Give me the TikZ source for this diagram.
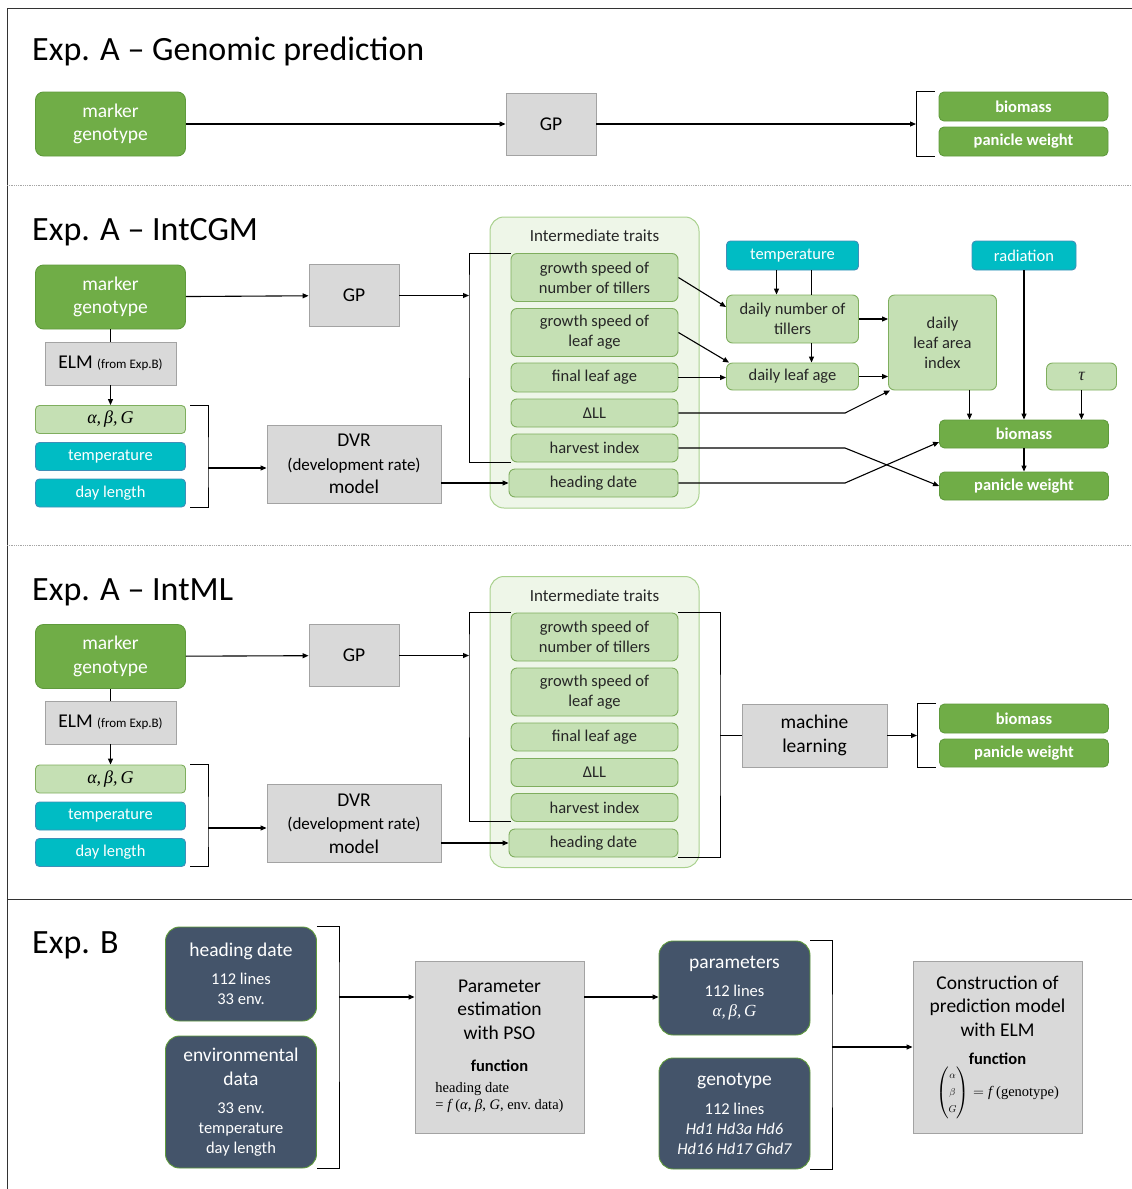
\documentclass[tikz,border=0pt]{standalone}
\usepackage{amsmath}
\usepackage{fontspec}
\setmainfont{Carlito}
\newfontfamily\cambria{Liberation Serif}
\usetikzlibrary{arrows.meta}

\definecolor{mkgreen}{HTML}{70AD47}
\definecolor{mkgreenline}{HTML}{5F9A3C}
\definecolor{ltgreen}{HTML}{C5E0B4}
\definecolor{ltgreenline}{HTML}{7FAE5E}
\definecolor{envteal}{HTML}{00BCC4}
\definecolor{envtealline}{HTML}{3F8FB8}
\definecolor{boxgray}{HTML}{D9D9D9}
\definecolor{boxgrayline}{HTML}{A3A3A3}
\definecolor{slate}{HTML}{44546A}
\definecolor{panelfill}{HTML}{EEF6E8}
\definecolor{panelline}{HTML}{A9D18E}

\newcommand\bigtxt{\fontsize{19.5}{23.5}\selectfont}
\newcommand\smtxt{\fontsize{16.5}{20}\selectfont}
\newcommand\ftxt{\fontsize{14.5}{17}\selectfont}
\newcommand\abg{{\cambria\itshape α,\,β,\,G}}

\tikzset{
  frame/.style={line width=1pt,black!80},
  sepline/.style={densely dotted,line width=0.8pt,gray!70},
  title/.style={anchor=base west,inner sep=0pt,font=\fontsize{34}{40}\selectfont},
  base/.style={inner sep=0pt,align=center,line width=0.9pt},
  genobox/.style={base,rounded corners=8pt,fill=mkgreen,draw=mkgreenline,text=white,
    font=\bigtxt,minimum width=150pt,minimum height=64pt},
  resbox/.style={base,rounded corners=5pt,fill=mkgreen,draw=mkgreenline,text=white,
    font=\bfseries\smtxt,minimum width=169pt,minimum height=29pt},
  gpbox/.style={base,fill=boxgray,draw=boxgrayline,font=\bigtxt},
  elmbox/.style={gpbox,minimum width=131pt,minimum height=43pt},
  inbox/.style={base,rounded corners=4pt,minimum width=150pt,minimum height=28pt,font=\smtxt},
  envbox/.style={inbox,fill=envteal,draw=envtealline,text=white},
  coefbox/.style={inbox,fill=ltgreen,draw=ltgreenline,font=\fontsize{18}{20}\selectfont},
  traitbox/.style={base,rounded corners=6pt,fill=ltgreen,draw=ltgreenline,text=black!85,
    font=\smtxt,minimum width=167pt},
  cgmbox/.style={traitbox,minimum width=132pt},
  panel/.style={rounded corners=14pt,fill=panelfill,draw=panelline,line width=1pt,
    minimum width=209pt,minimum height=291pt},
  darkbox/.style={base,rounded corners=14pt,fill=slate,draw=mkgreenline,text=white,
    font=\smtxt,minimum width=151pt},
  conn/.style={-{Triangle[length=6pt,width=5pt]},line width=1.1pt},
  brk/.style={line width=1pt}
}

\begin{document}
\begin{tikzpicture}[x=1pt,y=-1pt]
\useasboundingbox (0,0) rectangle (1132,1189);

% Frame and separators
\draw[frame] (7,1189) -- (7,8) -- (1132,8);
\draw[sepline] (7,185) -- (1132,185);
\draw[sepline] (7,545) -- (1132,545);
\draw[frame] (7,899) -- (1132,899);

% Exp. A -- genomic prediction
\node[title] (t1) at (32,60) {Exp. A – Genomic prediction};
\node[genobox] (mg1) at (110.5,124) {marker\\genotype};
\node[gpbox,minimum width=90pt,minimum height=62pt] (gp1) at (551,124) {GP};
\node[resbox] (bio1) at (1023.5,106.5) {biomass};
\node[resbox] (pw1) at (1023.5,141.5) {panicle weight};
\coordinate (br1) at (916,124);
\draw[conn] (mg1) -- (gp1);
\draw[conn] (gp1) -- (br1);
\draw[brk] ([xshift=-4pt]bio1.north west) -| (br1) |- ([xshift=-4pt]pw1.south west);

% Exp. A -- IntCGM
\node[title] (t2) at (32,240) {Exp. A – IntCGM};
\node[genobox] (mg2) at (110.5,297) {marker\\genotype};
\node[gpbox,minimum width=90pt,minimum height=62pt] (gp2) at (354,295.5) {GP};
\node[elmbox] (elm2) at (110.5,363.5) {ELM {\fontsize{13}{15}\selectfont (from Exp.B)}};
\node[coefbox] (abg2) at (110.5,419.5) {\abg};
\node[envbox] (tmp2) at (110.5,456.5) {temperature};
\node[envbox] (dl2) at (110.5,493) {day length};
\node[gpbox,minimum width=174pt,minimum height=78pt] (dvr2) at (354,464)
  {DVR\\{\fontsize{17}{21.5}\selectfont (development rate)}\\model};

\node[panel] (panel2) at (594.5,362.5) {};
\node[font=\fontsize{17}{20}\selectfont,text=black!85] (itl2) at (594.5,236) {Intermediate traits};
\node[traitbox,minimum height=48pt] (gsnt2) at (594.5,277.5) {growth speed of\\number of tillers};
\node[traitbox,minimum height=48pt] (gsla2) at (594.5,332.5) {growth speed of\\leaf age};
\node[traitbox,minimum height=29pt] (fla2) at (594.5,377.5) {final leaf age};
\node[traitbox,minimum height=28pt] (dll2) at (594.5,413) {ΔLL};
\node[traitbox,minimum height=28pt] (hi2) at (594.5,448) {harvest index};
\node[traitbox,minimum height=28pt,minimum width=169pt] (hd2) at (593.5,483) {heading date};

\node[envbox,minimum width=132pt,minimum height=29pt] (tmpc2) at (792.5,255.5) {temperature};
\node[envbox,minimum width=104pt,minimum height=29pt] (rad2) at (1024,255.5) {radiation};
\node[cgmbox,minimum height=48pt] (dnt2) at (792.5,319) {daily number of\\tillers};
\node[cgmbox,minimum height=27pt] (dla2) at (792.5,376.5) {daily leaf age};
\node[cgmbox,minimum width=108pt,minimum height=95pt] (dlai2) at (942.5,342.5) {daily\\leaf area\\index};
\node[cgmbox,minimum width=70pt,minimum height=27pt,font=\fontsize{18}{20}\selectfont] (tau2) at (1081.5,376.5) {\cambria\itshape τ};
\node[resbox,minimum height=28pt] (bio2) at (1024,434) {biomass};
\node[resbox,minimum height=28pt] (pw2) at (1024,486) {panicle weight};

\coordinate (br2) at (469,295.5);
\coordinate (lb2) at (208,468);
\coordinate (bend2) at (845,413);
\draw[conn] (mg2) -- (gp2);
\draw[conn] (gp2) -- (br2);
\draw[brk] (gsnt2.north west) -| (br2) |- (hi2.south west);
\draw[brk] (mg2) -- (elm2);
\draw[conn] (elm2) -- (abg2);
\draw[brk] ([xshift=4.5pt]abg2.north east) -| (lb2) |- ([xshift=4.5pt]dl2.south east);
\draw[conn] (lb2) -- (lb2 -| dvr2.west);
\draw[conn] (dvr2.east |- hd2) -- (hd2.west);
\draw[conn] ([xshift=-16pt]tmpc2.south) -- ([xshift=-16pt]dnt2.north);
\draw[brk] ([xshift=19pt]tmpc2.south) -- ([xshift=19pt]dnt2.north);
\draw[conn] ([xshift=19pt]dnt2.south) -- ([xshift=19pt]dla2.north);
\draw[conn] (gsnt2.east) -- ([yshift=12pt]dnt2.west);
\draw[conn] (gsla2.east) -- ([xshift=3pt]dla2.north west);
\draw[conn] (fla2.east) -- (fla2.east -| dla2.west);
\draw[conn] (dnt2.east) -- (dnt2.east -| dlai2.west);
\draw[conn] (dla2.east) -- (dla2.east -| dlai2.west);
\draw[conn] (dll2.east) -- (dll2.east -| bend2) -- ([xshift=2pt]dlai2.south west);
\draw[conn] (hi2.east) -- (hi2.east -| bend2) -- (pw2.west);
\draw[conn] (hd2.east) -- (hd2.east -| bend2) -- ([yshift=-8pt]bio2.west);
\draw[conn] ([xshift=27pt]dlai2.south) -- ([xshift=27pt]dlai2.south |- bio2.north);
\draw[conn] (rad2) -- (bio2);
\draw[conn] (tau2.south) -- (tau2.south |- bio2.north);
\draw[conn] (bio2) -- (pw2);

% Exp. A -- IntML
\node[title] (t3) at (32,600) {Exp. A – IntML};
\node[genobox] (mg3) at (110.5,656.5) {marker\\genotype};
\node[gpbox,minimum width=90pt,minimum height=62pt] (gp3) at (354,655.5) {GP};
\node[elmbox] (elm3) at (110.5,722.5) {ELM {\fontsize{13}{15}\selectfont (from Exp.B)}};
\node[coefbox] (abg3) at (110.5,779) {\abg};
\node[envbox] (tmp3) at (110.5,816) {temperature};
\node[envbox] (dl3) at (110.5,852.5) {day length};
\node[gpbox,minimum width=174pt,minimum height=78pt] (dvr3) at (354,823.5)
  {DVR\\{\fontsize{17}{21.5}\selectfont (development rate)}\\model};

\node[panel] (panel3) at (594.5,722) {};
\node[font=\fontsize{17}{20}\selectfont,text=black!85] (itl3) at (594.5,596) {Intermediate traits};
\node[traitbox,minimum height=48pt] (gsnt3) at (594.5,637) {growth speed of\\number of tillers};
\node[traitbox,minimum height=48pt] (gsla3) at (594.5,692) {growth speed of\\leaf age};
\node[traitbox,minimum height=28pt] (fla3) at (594.5,737) {final leaf age};
\node[traitbox,minimum height=28pt] (dll3) at (594.5,772.5) {ΔLL};
\node[traitbox,minimum height=28pt] (hi3) at (594.5,807.5) {harvest index};
\node[traitbox,minimum height=28pt,minimum width=169pt] (hd3) at (593.5,843) {heading date};

\node[gpbox,minimum width=145pt,minimum height=63pt] (ml3) at (814.5,735.5) {machine\\learning};
\node[resbox] (bio3) at (1024,718.5) {biomass};
\node[resbox,minimum height=28pt] (pw3) at (1024,753) {panicle weight};

\coordinate (br3) at (469,655.5);
\coordinate (lb3) at (208,828);
\coordinate (rb3) at (720,735.5);
\coordinate (br3b) at (917,735.5);
\draw[conn] (mg3) -- (gp3);
\draw[conn] (gp3) -- (br3);
\draw[brk] (gsnt3.north west) -| (br3) |- (hi3.south west);
\draw[brk] (mg3) -- (elm3);
\draw[conn] (elm3) -- (abg3);
\draw[brk] ([xshift=4.5pt]abg3.north east) -| (lb3) |- ([xshift=4.5pt]dl3.south east);
\draw[conn] (lb3) -- (lb3 -| dvr3.west);
\draw[conn] (dvr3.east |- hd3) -- (hd3.west);
\draw[brk] (gsnt3.north east) -| (rb3) |- (hd3.south east);
\draw[brk] (rb3) -- (ml3);
\draw[conn] (ml3) -- (br3b);
\draw[brk] ([xshift=-3pt]bio3.north west) -| (br3b) |- ([xshift=-3pt]pw3.south west);

% Exp. B
\node[title] (t4) at (32,953) {Exp. B};
\node[darkbox,minimum height=94pt] (hd4) at (241,974)
  {{\bigtxt heading date}\\[8pt]112 lines\\33 env.};
\node[darkbox,minimum height=132pt] (env4) at (241,1102)
  {{\bigtxt environmental}\\[3.5pt]{\bigtxt data}\\[8pt]33 env.\\temperature\\day length};
\node[gpbox,minimum width=169pt,minimum height=172pt] (pe4) at (499.5,1047)
  {Parameter\\estimation\\with PSO\\[9pt]{\bfseries\smtxt function}\\[6pt]%
   {\ftxt\cambria\begin{tabular}{@{}l@{}}heading date\\= \textit{f}\,(\textit{α}, \textit{β}, \textit{G}, env.\ data)\end{tabular}}};
\node[darkbox,minimum height=94pt] (par4) at (734.5,988)
  {{\bigtxt parameters}\\[8pt]112 lines\\{\fontsize{17}{20}\selectfont\abg}};
\node[darkbox,minimum height=111pt] (gen4) at (734.5,1113.5)
  {{\bigtxt genotype}\\[9pt]112 lines\\\itshape Hd1 Hd3a Hd6\\\itshape Hd16 Hd17 Ghd7};
\node[gpbox,minimum width=169pt,minimum height=172pt] (ce4) at (997.5,1047)
  {Construction of\\prediction model\\with ELM\\[5pt]{\bfseries\smtxt function}\\[1pt]%
   {\ftxt$\begin{pmatrix}\scriptstyle\alpha\\\scriptstyle\beta\\\scriptstyle G\end{pmatrix}=\text{\cambria\textit{f}\,(genotype)}$}};

\coordinate (bra4) at (339,997);
\coordinate (brb4) at (832,1047);
\draw[brk] (hd4.north east) -| (bra4) |- (env4.south east);
\draw[conn] (bra4) -- (bra4 -| pe4.west);
\draw[conn] (pe4.east |- bra4) -- (par4.west |- bra4);
\draw[brk] (par4.north east) -| (brb4) |- (gen4.south east);
\draw[conn] (brb4) -- (ce4);
\end{tikzpicture}
\end{document}
